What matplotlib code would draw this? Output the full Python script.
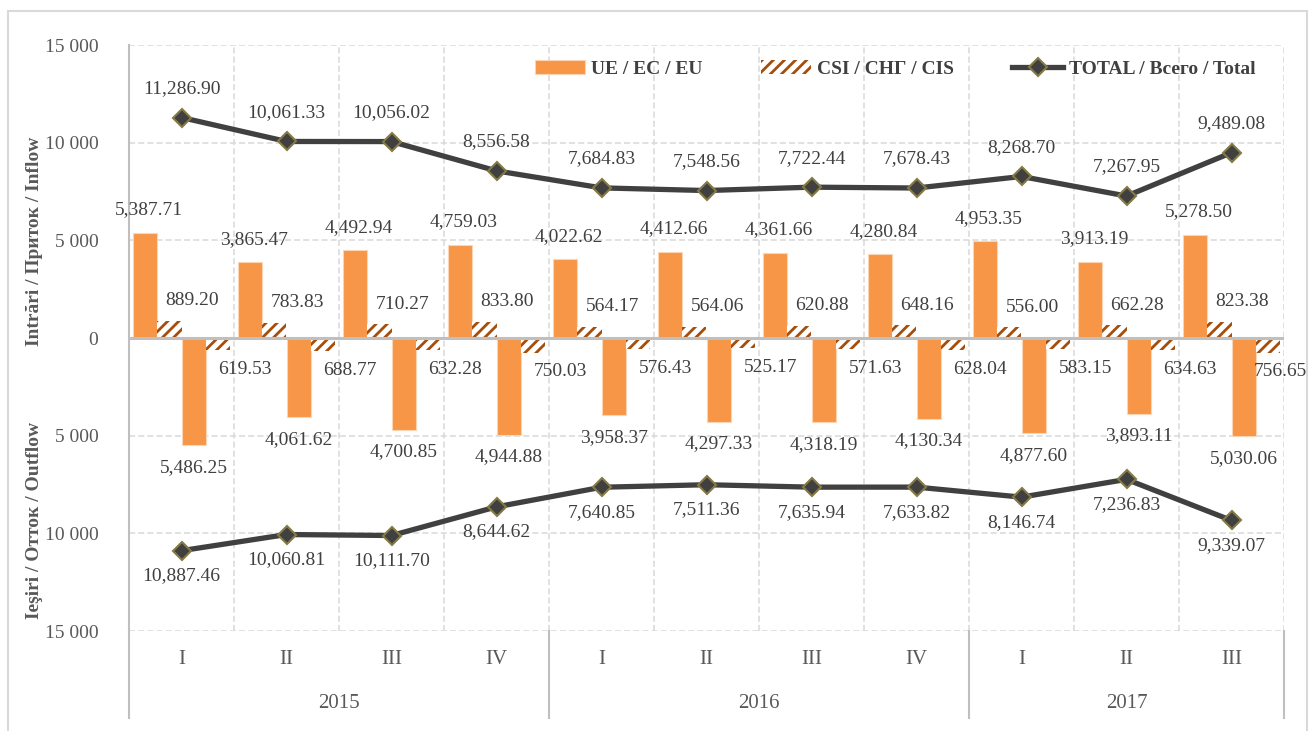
import matplotlib
matplotlib.use("Agg")
import matplotlib.pyplot as plt
import matplotlib.transforms as mtransforms
from matplotlib.patches import Rectangle
from matplotlib.ticker import FixedLocator, FuncFormatter
import numpy as np

quarters = ["I", "II", "III", "IV", "I", "II", "III", "IV", "I", "II", "III"]
years = ["2015", "2016", "2017"]
year_spans = [4, 4, 3]

eu_in = [5387.71, 3865.47, 4492.94, 4759.03, 4022.62, 4412.66, 4361.66, 4280.84, 4953.35, 3913.19, 5278.50]
cis_in = [889.20, 783.83, 710.27, 833.80, 564.17, 564.06, 620.88, 648.16, 556.00, 662.28, 823.38]
total_in = [11286.90, 10061.33, 10056.02, 8556.58, 7684.83, 7548.56, 7722.44, 7678.43, 8268.70, 7267.95, 9489.08]
eu_out = [5486.25, 4061.62, 4700.85, 4944.88, 3958.37, 4297.33, 4318.19, 4130.34, 4877.60, 3893.11, 5030.06]
cis_out = [619.53, 688.77, 632.28, 750.03, 576.43, 525.17, 571.63, 628.04, 583.15, 634.63, 756.65]
total_out = [10887.46, 10060.81, 10111.70, 8644.62, 7640.85, 7511.36, 7635.94, 7633.82, 8146.74, 7236.83, 9339.07]

ORANGE = "#F79646"
BROWN = "#A54E0C"
DARK = "#404040"
TXT = "#404040"
GRID = "#D9D9D9"

plt.rcParams["font.family"] = ["Liberation Serif", "DejaVu Serif"]
plt.rcParams["hatch.linewidth"] = 2.0
plt.rcParams["hatch.color"] = BROWN

W, H = 1310, 731
fig = plt.figure(figsize=(W / 100, H / 100), dpi=100)
ax = fig.add_axes([129 / W, (H - 631) / H, (1284 - 129) / W, (631 - 45) / H])

x = np.arange(len(quarters))
w = 0.233

eu_in_a = np.array(eu_in)
cis_in_a = np.array(cis_in)
eu_out_a = -np.array(eu_out)
cis_out_a = -np.array(cis_out)

h_eu = ax.bar(x - 1.5 * w, eu_in_a, w, color=ORANGE, edgecolor="#FCD5B4", linewidth=0.8,
              label="UE / EC / EU", zorder=3)
h_cis = ax.bar(x - 0.5 * w, cis_in_a, w, color="white", edgecolor=BROWN, linewidth=0,
               hatch="///", label="CSI / СНГ / CIS", zorder=3)
ax.bar(x + 0.5 * w, eu_out_a, w, color=ORANGE, edgecolor="#FCD5B4", linewidth=0.8, zorder=3)
ax.bar(x + 1.5 * w, cis_out_a, w, color="white", edgecolor=BROWN, linewidth=0,
       hatch="///", zorder=3)

line_kw = dict(color=DARK, lw=3.8, marker="D", markersize=9,
               markerfacecolor=DARK, markeredgecolor="#857A45", markeredgewidth=1.5, zorder=5)
h_tot, = ax.plot(x, total_in, label="TOTAL / Всего / Total", **line_kw)
ax.plot(x, -np.array(total_out), **line_kw)

# data labels (offsets in pixels -> points)
px = 0.72
lab_kw = dict(textcoords="offset points", ha="center", va="center",
              fontsize=14, color=TXT, zorder=6)


def fmt(v):
    return f"{abs(v):,.2f}"


last = len(quarters) - 1
for i in x:
    ax.annotate(fmt(eu_in_a[i]), (i - 1.5 * w, eu_in_a[i]), xytext=(4 * px, 23 * px), **lab_kw)
    ax.annotate(fmt(cis_in_a[i]), (i - 0.5 * w, cis_in_a[i]), xytext=(23 * px, 20 * px), **lab_kw)
    ax.annotate(fmt(eu_out_a[i]), (i + 0.5 * w, eu_out_a[i]), xytext=(0, -22 * px), **lab_kw)
    dx = 12 if i == last else 27
    ax.annotate(fmt(cis_out_a[i]), (i + 1.5 * w, cis_out_a[i]), xytext=(dx * px, -19 * px), **lab_kw)
    ax.annotate(fmt(total_in[i]), (i, total_in[i]), xytext=(0, 29 * px), **lab_kw)
    ax.annotate(fmt(total_out[i]), (i, -total_out[i]), xytext=(0, -25 * px), **lab_kw)

# axes and grid
ax.set_xlim(-0.5, len(quarters) - 0.5)
ax.set_ylim(-15000, 15000)
ax.yaxis.set_major_locator(FixedLocator([-15000, -10000, -5000, 0, 5000, 10000, 15000]))
ax.yaxis.set_major_formatter(FuncFormatter(lambda v, p: f"{abs(v):,.0f}".replace(",", " ")))
ax.set_xticks(np.arange(-0.5, len(quarters), 1.0))
ax.set_xticklabels([])
ax.tick_params(axis="both", length=0)
ax.tick_params(axis="y", labelsize=14, labelcolor="#595959", pad=22)
ax.grid(True, color=GRID, linestyle=(0, (4, 2)), linewidth=1.1, zorder=0)
for s in ["top", "right", "bottom"]:
    ax.spines[s].set_visible(False)
ax.spines["left"].set_color("#BFBFBF")
ax.spines["left"].set_linewidth(1.5)
ax.axhline(0, color="#BFBFBF", lw=2.2, zorder=4)

# category axis
trans = mtransforms.blended_transform_factory(ax.transData, ax.transAxes)
ah = 631 - 45
for i, q in enumerate(quarters):
    ax.text(i, -29 / ah, q, transform=trans, ha="center", va="center",
            fontsize=15, color="#595959")
start = 0
for yr, n in zip(years, year_spans):
    ax.text(start + n / 2 - 0.5, -72 / ah, yr, transform=trans, ha="center", va="center",
            fontsize=15, color="#595959")
    start += n
bounds = np.cumsum([0] + year_spans) - 0.5
for b in bounds:
    ax.plot([b, b], [0, -87 / ah], transform=trans, color="#BFBFBF", lw=1.5,
            clip_on=False, zorder=2)

# axis titles
fig.text(35 / W, 1 - 241 / H, "Intrări / Приток / Inflow", rotation=90, ha="center",
         va="center", fontsize=14, fontweight="bold", color="#595959")
fig.text(35 / W, 1 - 520 / H, "Ieşiri / Отток / Outflow", rotation=90, ha="center",
         va="center", fontsize=14, fontweight="bold", color="#595959")

ax.legend([h_eu, h_cis, h_tot], ["UE / EC / EU", "CSI / СНГ / CIS", "TOTAL / Всего / Total"],
          loc="center", bbox_to_anchor=((895 - 129) / (1284 - 129), (631 - 69) / ah),
          ncol=3, frameon=False, prop={"weight": "bold", "size": 14},
          handlelength=2.6, handleheight=0.7, columnspacing=3.0, handletextpad=0.3,
          labelcolor=TXT)

# chart border
fig.patches.append(Rectangle((8 / W, -0.01), (1307 - 8) / W, 1 - 11 / H + 0.01,
                             transform=fig.transFigure, fill=False, edgecolor="#D9D9D9", lw=1.5))

fig.savefig("out.png", dpi=100)
